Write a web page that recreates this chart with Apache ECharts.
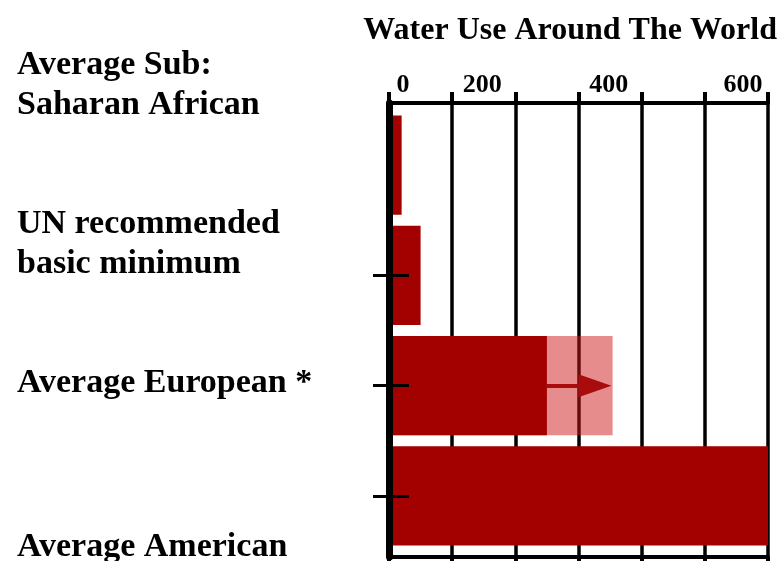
<!DOCTYPE html>
<html>
<head>
<meta charset="utf-8">
<script src="https://cdn.jsdelivr.net/npm/echarts@6/dist/echarts.min.js"></script>
<style>
  html, body { margin: 0; padding: 0; background: #fff; }
  #chart { width: 779px; height: 561px; }
</style>
</head>
<body>
<div id="chart"></div>
<script>
const categories = ['Average Sub:\nSaharan African', 'UN recommended\nbasic minimum', 'Average European *', 'Average American']
const usage = [20, 50, 250, 600]
const projected = [null, null, 354, null]
const tickLabels = [0, 200, 400, 600]

const serif = 'Liberation Serif'

// vertical nudge of each category label (px, + is down)
const labelShift = [-80, -31, -2, 51]
// horizontal nudge of each tick label (px, + is right)
const tickShift = {0: 14, 200: -33, 400: -33, 600: -25}

let catRich = {
  t: {fontFamily: serif, fontWeight: 'bold', fontSize: 34, lineHeight: 40, color: '#000'}
}
labelShift.forEach((s, i) => {
  catRich['sp' + i] = {height: Math.abs(s) * 2, lineHeight: Math.abs(s) * 2}
})

let tickRich = {}
tickLabels.forEach(v => {
  let d = tickShift[v]
  tickRich['v' + v] = {
    fontFamily: serif, fontWeight: 'bold', fontSize: 26, color: '#000',
    padding: d > 0 ? [0, 0, 0, 2 * d] : [0, -2 * d, 0, 0]
  }
})

let chart = echarts.init(document.getElementById('chart'))
chart.setOption({
  animation: false,
  title: {
    text: 'Water Use Around The World',
    right: -3,
    top: 10,
    textStyle: {fontFamily: serif, fontWeight: 'bold', fontSize: 32, color: '#000'}
  },
  grid: [
    {left: 389, right: 11, top: 103, bottom: 4, outerBoundsMode: 'none'},
    {left: 389, right: 11, top: 110, bottom: 10, outerBoundsMode: 'none'}
  ],
  xAxis: [
    {
      gridIndex: 0, type: 'value', position: 'top', min: 0, max: 600, interval: 100,
      axisLine: {show: true, onZero: false, lineStyle: {color: '#000', width: 4}},
      axisTick: {show: true, length: 11, lineStyle: {color: '#000', width: 4}},
      splitLine: {show: true, lineStyle: {color: '#000', width: 3.5}},
      axisLabel: {
        margin: 5,
        formatter: v => tickLabels.indexOf(v) >= 0 ? '{v' + v + '|' + v + '}' : '',
        rich: tickRich
      }
    },
    {
      gridIndex: 0, type: 'value', position: 'bottom', min: 0, max: 600, interval: 100,
      axisLine: {show: true, onZero: false, lineStyle: {color: '#000', width: 4}},
      axisTick: {show: true, length: 10, lineStyle: {color: '#000', width: 4}},
      splitLine: {show: false},
      axisLabel: {show: false}
    },
    {gridIndex: 1, type: 'value', min: 0, max: 600, show: false}
  ],
  yAxis: [
    {
      gridIndex: 0, type: 'value', position: 'left', min: 0, max: 1, z: 10,
      axisLine: {show: true, onZero: false, lineStyle: {color: '#000', width: 7}},
      axisTick: {show: false}, axisLabel: {show: false}, splitLine: {show: false}
    },
    {
      gridIndex: 1, type: 'category', position: 'left', inverse: true, data: categories, z: 10,
      axisLine: {show: false, onZero: false},
      axisTick: {show: true, alignWithLabel: true, length: 16, interval: i => i > 0,
        lineStyle: {color: '#000', width: 3}},
      axisLabel: {
        interval: 0, align: 'left', margin: 372,
        formatter: (v, i) => {
          let body = v.split('\n').map(l => '{t|' + l + '}').join('\n')
          let sp = '{sp' + i + '|}'
          return labelShift[i] < 0 ? body + '\n' + sp : sp + '\n' + body
        },
        rich: catRich
      }
    },
    {
      gridIndex: 1, type: 'category', position: 'left', inverse: true, data: categories, z: 10,
      axisLine: {show: false, onZero: false},
      axisTick: {show: true, inside: true, alignWithLabel: true, length: 20, interval: i => i > 0,
        lineStyle: {color: '#000', width: 3}},
      axisLabel: {show: false}
    }
  ],
  series: [
    {
      name: 'Projected',
      type: 'bar',
      xAxisIndex: 2, yAxisIndex: 1,
      data: projected,
      barCategoryGap: '10%',
      barGap: '-100%',
      itemStyle: {color: 'rgba(205, 25, 25, 0.5)'},
      markLine: {
        silent: true,
        symbol: ['none', 'triangle'],
        symbolSize: [23, 33],
        label: {show: false},
        lineStyle: {color: '#a80c0c', width: 4, type: 'solid'},
        data: [[{coord: [usage[2], categories[2]]}, {coord: [projected[2] - 28, categories[2]]}]]
      }
    },
    {
      name: 'Usage',
      type: 'bar',
      xAxisIndex: 2, yAxisIndex: 1,
      data: usage,
      barCategoryGap: '10%',
      barGap: '-100%',
      itemStyle: {color: '#a30000'}
    }
  ]
})
</script>
</body>
</html>
